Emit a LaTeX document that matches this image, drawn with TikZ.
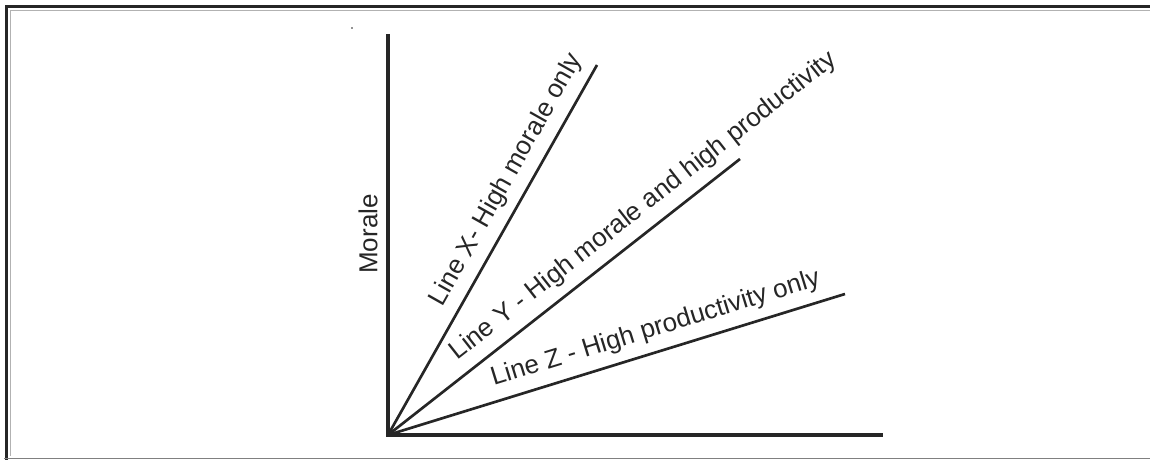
\documentclass[tikz,border=0pt]{standalone}
\usepackage{fontspec}
\setmainfont{Liberation Sans}
\usepackage{tikz}
\usetikzlibrary{calc}

\begin{document}
\begin{tikzpicture}
[
	scale=1,
	axisline/.style = {line width=2.3pt, black!85},
	ray/.style = {line width=1.9pt, black!85},
	lbl/.style = {font=\fontsize{18.5}{21}\selectfont, text=black!85},
]
\useasboundingbox (0,0) rectangle (28.75,11.5);

% frame
\draw[line width=2.5pt, black!85] (0.16,0) -- (0.16,11.34) -- (28.75,11.34);
\draw[gray!60, line width=0.5pt] (0.26,0.1) -- (0.26,11.25) -- (28.75,11.25);
\draw[gray, line width=0.8pt] (0.1,0.04) -- (28.75,0.04);
\fill[black!85] (8.8,10.8) circle (0.6pt);

\coordinate (o) at (9.7,0.625);
\coordinate (ytop) at (9.7,10.65);
\coordinate (xright) at (22.075,0.625);
\coordinate (xend) at (14.925,9.875);
\coordinate (yend) at (18.5,7.525);
\coordinate (zend) at (21.125,4.15);

\draw[axisline] (ytop) -- (o) -- (xright);
\node[lbl, rotate=90] (morale) at (9.2,5.65) {Morale};

\draw[ray] (o) -- (xend) node[lbl, pos=0.66, sloped, above=3pt] (labx) {Line X- High morale only};
\draw[ray] (o) -- (yend) node[lbl, pos=0.765, sloped, above=3pt] (laby) {Line Y - High morale and high productivity};
\draw[ray] (o) -- (zend) node[lbl, pos=0.60, sloped, above=3pt] (labz) {Line Z - High productivity only};
\end{tikzpicture}
\end{document}
